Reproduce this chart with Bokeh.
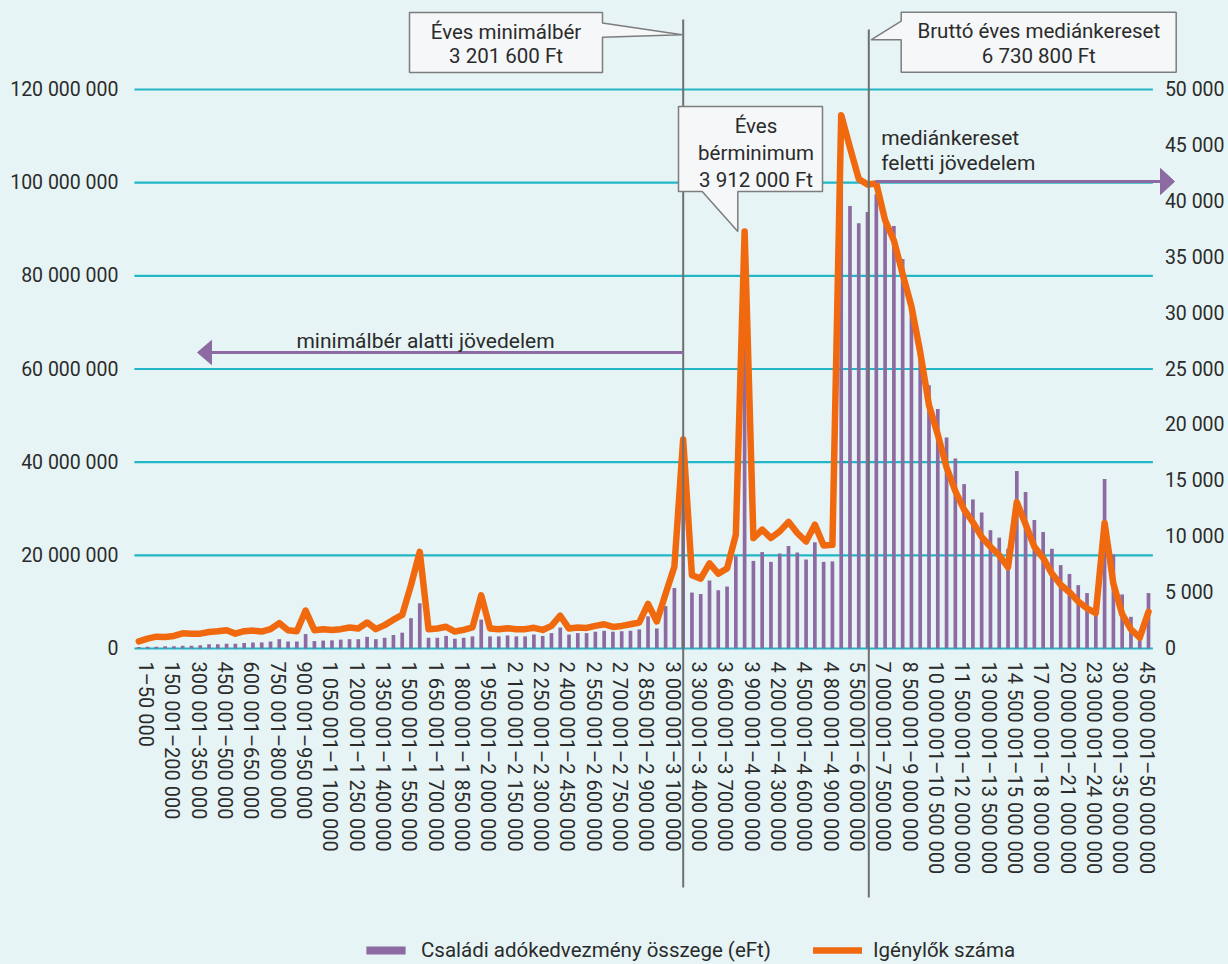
from bokeh.plotting import figure
from bokeh.models import Range1d, LinearAxis, FixedTicker, Label, Legend, LegendItem, ColumnDataSource
from bokeh.embed import file_html
from bokeh.resources import INLINE

# ---------------- data ----------------
categories = [
    "1–50 000", "50 001–100 000", "100 001–150 000", "150 001–200 000", "200 001–250 000",
    "250 001–300 000", "300 001–350 000", "350 001–400 000", "400 001–450 000", "450 001–500 000",
    "500 001–550 000", "550 001–600 000", "600 001–650 000", "650 001–700 000", "700 001–750 000",
    "750 001–800 000", "800 001–850 000", "850 001–900 000", "900 001–950 000", "950 001–1 000 000",
    "1 000 001–1 050 000", "1 050 001–1 100 000", "1 100 001–1 150 000", "1 150 001–1 200 000",
    "1 200 001–1 250 000", "1 250 001–1 300 000", "1 300 001–1 350 000", "1 350 001–1 400 000",
    "1 400 001–1 450 000", "1 450 001–1 500 000", "1 500 001–1 550 000", "1 550 001–1 600 000",
    "1 600 001–1 650 000", "1 650 001–1 700 000", "1 700 001–1 750 000", "1 750 001–1 800 000",
    "1 800 001–1 850 000", "1 850 001–1 900 000", "1 900 001–1 950 000", "1 950 001–2 000 000",
    "2 000 001–2 050 000", "2 050 001–2 100 000", "2 100 001–2 150 000", "2 150 001–2 200 000",
    "2 200 001–2 250 000", "2 250 001–2 300 000", "2 300 001–2 350 000", "2 350 001–2 400 000",
    "2 400 001–2 450 000", "2 450 001–2 500 000", "2 500 001–2 550 000", "2 550 001–2 600 000",
    "2 600 001–2 650 000", "2 650 001–2 700 000", "2 700 001–2 750 000", "2 750 001–2 800 000",
    "2 800 001–2 850 000", "2 850 001–2 900 000", "2 900 001–2 950 000", "2 950 001–3 000 000",
    "3 000 001–3 100 000", "3 100 001–3 200 000", "3 200 001–3 300 000", "3 300 001–3 400 000",
    "3 400 001–3 500 000", "3 500 001–3 600 000", "3 600 001–3 700 000", "3 700 001–3 800 000",
    "3 800 001–3 900 000", "3 900 001–4 000 000", "4 000 001–4 100 000", "4 100 001–4 200 000",
    "4 200 001–4 300 000", "4 300 001–4 400 000", "4 400 001–4 500 000", "4 500 001–4 600 000",
    "4 600 001–4 700 000", "4 700 001–4 800 000", "4 800 001–4 900 000", "4 900 001–5 000 000",
    "5 000 001–5 500 000", "5 500 001–6 000 000", "6 000 001–6 500 000", "6 500 001–7 000 000",
    "7 000 001–7 500 000", "7 500 001–8 000 000", "8 000 001–8 500 000", "8 500 001–9 000 000",
    "9 000 001–9 500 000", "9 500 001–10 000 000", "10 000 001–10 500 000", "10 500 001–11 000 000",
    "11 000 001–11 500 000", "11 500 001–12 000 000", "12 000 001–12 500 000", "12 500 001–13 000 000",
    "13 000 001–13 500 000", "13 500 001–14 000 000", "14 000 001–14 500 000", "14 500 001–15 000 000",
    "15 000 001–16 000 000", "16 000 001–17 000 000", "17 000 001–18 000 000", "18 000 001–19 000 000",
    "19 000 001–20 000 000", "20 000 001–21 000 000", "21 000 001–22 000 000", "22 000 001–23 000 000",
    "23 000 001–24 000 000", "24 000 001–25 000 000", "25 000 001–30 000 000", "30 000 001–35 000 000",
    "35 000 001–40 000 000", "40 000 001–45 000 000", "45 000 001–50 000 000", "50 000 001–",
]

# Családi adókedvezmény összege (eFt) -- left axis
benefit_eft = [
    300000, 350000, 400000, 500000, 500000, 600000, 600000, 700000, 900000, 900000,
    1000000, 1000000, 1200000, 1300000, 1300000, 1500000, 2000000, 1500000, 1500000, 3100000,
    1600000, 1700000, 1750000, 1900000, 2000000, 2000000, 2500000, 2000000, 2300000, 2900000,
    3400000, 6500000, 9700000, 2300000, 2300000, 2700000, 2100000, 2300000, 2600000, 6200000,
    2600000, 2600000, 2800000, 2600000, 2600000, 3000000, 2700000, 3300000, 4500000, 3000000,
    3300000, 3300000, 3600000, 3800000, 3600000, 3700000, 3800000, 4100000, 6900000, 4300000,
    9100000, 13000000, 33000000, 12000000, 11700000, 14600000, 12500000, 13300000, 19800000, 65000000,
    18800000, 20700000, 18600000, 20400000, 22000000, 20600000, 19100000, 22800000, 18600000, 18700000,
    100000000, 95000000, 91300000, 93700000, 97500000, 91700000, 90700000, 83600000, 73400000, 65200000,
    56500000, 51400000, 45300000, 40800000, 35300000, 32000000, 29200000, 25400000, 23800000, 21400000,
    38100000, 33600000, 27600000, 25000000, 21400000, 17900000, 16000000, 13600000, 11900000, 10800000,
    36400000, 20200000, 11600000, 6800000, 2700000, 11900000,
]

# Igénylők száma -- right axis
claimants = [
    640, 880, 1060, 1030, 1120, 1360, 1330, 1330, 1480, 1545,
    1640, 1330, 1545, 1600, 1515, 1730, 2270, 1640, 1545, 3390,
    1640, 1730, 1660, 1730, 1880, 1790, 2330, 1730, 2090, 2575,
    3000, 5670, 8640, 1730, 1790, 1940, 1515, 1670, 1880, 4760,
    1790, 1730, 1820, 1730, 1730, 1850, 1660, 2020, 2930, 1780,
    1870, 1840, 2020, 2170, 1930, 2020, 2170, 2330, 3990, 2420,
    4890, 7310, 18690, 6550, 6250, 7610, 6700, 7160, 10180, 37300,
    9880, 10630, 9880, 10480, 11330, 10330, 9570, 11080, 9210, 9270,
    47700, 44800, 42000, 41500, 41600, 38300, 36500, 33500, 30600, 26500,
    21760, 19140, 16200, 14070, 12430, 11290, 9980, 9100, 8340, 7260,
    13090, 11120, 9100, 8100, 6700, 5710, 5040, 4200, 3590, 3170,
    11230, 5800, 3080, 1720, 970, 3290,
]

left_ticks = [0, 20000000, 40000000, 60000000, 80000000, 100000000, 120000000]
left_tick_labels = ["0", "20 000 000", "40 000 000", "60 000 000", "80 000 000", "100 000 000", "120 000 000"]
right_ticks = [0, 5000, 10000, 15000, 20000, 25000, 30000, 35000, 40000, 45000, 50000]
right_tick_labels = ["0", "5 000", "10 000", "15 000", "20 000", "25 000", "30 000", "35 000", "40 000", "45 000", "50 000"]
label_step = 3

series_names = ["Családi adókedvezmény összege (eFt)", "Igénylők száma"]
callout_min_wage = ["Éves minimálbér", "3 201 600 Ft"]
callout_wage_min = ["Éves", "bérminimum", "3 912 000 Ft"]
callout_median = ["Bruttó éves mediánkereset", "6 730 800 Ft"]
note_above = ["mediánkereset", "feletti jövedelem"]
note_below = "minimálbér alatti jövedelem"

# ---------------- style ----------------
BG = "#e6f4f5"
GRID = "#22b6c6"
PURPLE = "#8e6aa2"
ORANGE = "#f0690f"
VLINE = "#6f6f6f"
BOX_FILL = "#f5f7f8"
BOX_LINE = "#7d7d7d"
TEXT = "#2b2b2b"
FONT = "Roboto"

W, H = 1228, 964
X0, DX = 138.3, 8.78            # page x of first category, px per category
YZ, PPU = 648.0, 559.0 / 120e6  # page y of zero, px per left-axis unit
RS = 50000 / 120e6              # right / left axis ratio
LABEL_SHIFT = 0.8               # category labels sit a little right of the bars


def dx(X):
    return (X - X0) / DX


def dy(Y):
    return (YZ - Y) / PPU


p = figure(width=W, height=H, x_range=Range1d(dx(0), dx(W)),
           y_range=Range1d(dy(H), dy(0)), x_axis_type=None, y_axis_type=None,
           output_backend="svg", toolbar_location=None, min_border=0,
           background_fill_color=BG, border_fill_color=BG, outline_line_color=None)
p.min_border_left = p.min_border_right = p.min_border_top = p.min_border_bottom = 0
p.extra_y_ranges = {"right": Range1d(dy(H) * RS, dy(0) * RS)}

idx = list(range(len(categories)))
src = ColumnDataSource(dict(x=idx, benefit=benefit_eft, claimants=claimants))

# gridlines
n = len(categories)
p.segment(x0=[-0.5] * len(left_ticks), x1=[n - 0.5] * len(left_ticks), y0=left_ticks, y1=left_ticks,
          line_color=GRID, line_width=2.2)

bars = p.vbar(x="x", top="benefit", width=0.42, source=src, fill_color=PURPLE, line_color=None)
line = p.line(x="x", y="claimants", source=src, y_range_name="right", line_color=ORANGE,
              line_width=6.5, line_join="round", line_cap="round")

# vertical reference lines
p.segment(x0=[dx(682.7), dx(868.3)], x1=[dx(682.7), dx(868.3)], y0=[dy(19), dy(29)], y1=[dy(887), dy(897)],
          line_color=VLINE, line_width=2)


def poly(pts):
    return [dx(a) for a, b in pts], [dy(b) for a, b in pts]


# callout boxes
boxes = [
    [(409, 12), (602, 12), (602, 22.5), (681.5, 34.3), (602, 36.7), (602, 72), (409, 72)],
    [(678, 106), (822, 106), (822, 191), (737.3, 191), (737.3, 231), (701.7, 191), (678, 191)],
    [(900.7, 11.7), (1175.7, 11.7), (1175.7, 71.7), (900.7, 71.7), (900.7, 39.3), (870.5, 39.3), (900.7, 20.7)],
]
bx, by = zip(*[poly(b) for b in boxes])
p.patches(xs=list(bx), ys=list(by), fill_color=BOX_FILL, line_color=BOX_LINE, line_width=1.5)

# arrows
p.segment(x0=[dx(683), dx(875)], x1=[dx(208), dx(1163)], y0=[dy(352), dy(181)], y1=[dy(352), dy(181)],
          line_color=PURPLE, line_width=3)
heads = [
    [(197, 352), (211, 340), (211, 364)],
    [(1174, 181), (1160, 168), (1160, 194)],
]
hx, hy = zip(*[poly(h) for h in heads])
p.patches(xs=list(hx), ys=list(hy), fill_color=PURPLE, line_color=PURPLE, line_width=1)


def add_text(X, Y, txt, align="center", size="21px"):
    p.add_layout(Label(x=dx(X), y=dy(Y), text=txt, text_align=align, text_baseline="middle",
                       text_font=FONT, text_font_size=size, text_color=TEXT))


for i, t in enumerate(callout_min_wage):
    add_text(505.5, 31 + 24.5 * i, t, size="20.5px")
for i, t in enumerate(callout_wage_min):
    add_text(755.5, 125 + 27 * i, t, size="20.5px")
for i, t in enumerate(callout_median):
    add_text(1038.3, 30.5 + 24.5 * i, t, size="20.5px")
for i, t in enumerate(note_above):
    add_text(880.7, 137 + 25 * i, t, align="left")
add_text(425, 340, note_below)

# axes
left_axis = LinearAxis(fixed_location=dx(134), ticker=FixedTicker(ticks=left_ticks),
                       major_label_overrides=dict(zip(left_ticks, left_tick_labels)))
right_axis = LinearAxis(y_range_name="right", fixed_location=dx(1152.4), ticker=FixedTicker(ticks=right_ticks),
                        major_label_overrides=dict(zip(right_ticks, right_tick_labels)))
xt = [i + LABEL_SHIFT for i in idx[::label_step]]
bottom_axis = LinearAxis(fixed_location=0, ticker=FixedTicker(ticks=xt),
                         major_label_overrides={i + LABEL_SHIFT: categories[i] for i in idx[::label_step]},
                         major_label_orientation="vertical")
for ax, standoff, size in ((left_axis, 16, "19.5px"), (right_axis, 12, "19.5px"), (bottom_axis, 13, "20px")):
    ax.axis_line_color = None
    ax.major_tick_line_color = None
    ax.minor_tick_line_color = None
    ax.major_tick_in = 0
    ax.major_tick_out = 0
    ax.minor_tick_out = 0
    ax.major_label_standoff = standoff
    ax.major_label_text_font = FONT
    ax.major_label_text_font_size = size
    ax.major_label_text_color = TEXT
p.add_layout(left_axis, "left")
p.add_layout(right_axis, "right")
p.add_layout(bottom_axis, "below")

legend = Legend(items=[LegendItem(label=series_names[0], renderers=[bars]),
                       LegendItem(label=series_names[1], renderers=[line])],
                orientation="horizontal", location=(361, 2), background_fill_alpha=0,
                border_line_color=None, glyph_width=49, glyph_height=10, label_standoff=11,
                spacing=42, padding=0, margin=0, label_text_font=FONT,
                label_text_font_size="20.5px", label_text_color=TEXT)
p.add_layout(legend)

html = file_html(p, INLINE)
html = html.replace("</head>", "<style>html, body { background: %s; }</style></head>" % BG, 1)
open("out.html", "w").write(html)
